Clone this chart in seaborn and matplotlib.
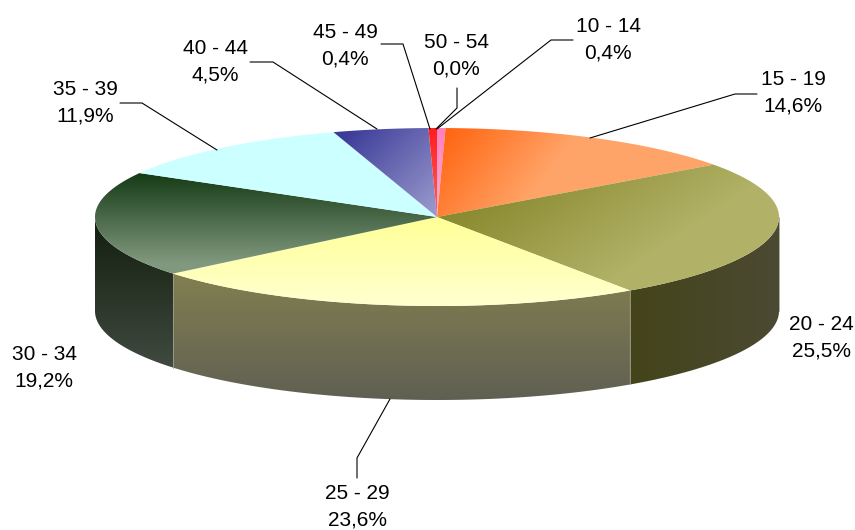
import numpy as np
import matplotlib
matplotlib.use('Agg')
import matplotlib.pyplot as plt
from matplotlib.path import Path
from matplotlib.patches import PathPatch
import seaborn as sns

categories = ['10 - 14', '15 - 19', '20 - 24', '25 - 29', '30 - 34', '35 - 39', '40 - 44', '45 - 49', '50 - 54']
values = [0.4, 14.6, 25.5, 23.6, 19.2, 11.9, 4.5, 0.4, 0.0]

# top face colours, start and end of the gradient
top_start = ['#ff80c0', '#ff6410', '#8a8a30', '#ffff99', '#143a14', '#ccffff', '#3a3a98', '#ff2020', '#ff0000']
top_end = ['#ffb0d8', '#ffa468', '#b2b268', '#ffffcc', '#80987e', '#ccffff', '#9898cc', '#ff6060', '#ff0000']
side_start = ['#804060', '#804020', '#44441a', '#827f50', '#121e0e', '#667f7f', '#1e1e50', '#801010', '#800000']
side_end = ['#804060', '#804020', '#4b4a33', '#606053', '#404a40', '#667f7f', '#1e1e50', '#801010', '#800000']

# gradient direction of the top face, in pixels
top_grad = {
    0: ((437, 130), (445, 215)),
    1: ((445, 128), (530, 195)),
    2: ((520, 170), (600, 290)),
    3: ((400, 220), (400, 300)),
    4: ((200, 172), (200, 262)),
    5: ((200, 130), (200, 210)),
    6: ((345, 130), (430, 215)),
    7: ((432, 130), (436, 215)),
    8: ((437, 130), (437, 215)),
}

label_pos = [(608, 40), (793, 93), (821, 338), (357, 507), (44, 368), (85, 103), (215, 62), (345, 46), (456, 56)]
leaders = [
    [(437, 129), (551, 40), (573, 40)],
    [(590, 138), (735, 94), (757, 94)],
    None,
    [(390, 399), (357, 458), (357, 478)],
    None,
    [(217, 150), (142, 103), (120, 103)],
    [(377, 129), (273, 62), (250, 62)],
    [(430, 129), (403, 44), (381, 44)],
    [(436, 129), (457, 108), (457, 88)],
]

cx, cy = 437, 217
rx, ry = 342, 89
depth = 94


def ellipse_pts(a0, a1, dy=0):
    # angles clockwise from the top, in degrees
    t = np.radians(np.linspace(a0, a1, max(int(abs(a1 - a0) * 2), 2)))
    return np.column_stack([cx + rx * np.sin(t), cy + dy - ry * np.cos(t)])


def fill_gradient(ax, pts, c0, c1, p0, p1):
    path = Path(np.vstack([pts, pts[0]]), closed=True)
    xmin, ymin = pts.min(axis=0) - 1
    xmax, ymax = pts.max(axis=0) + 1
    xx, yy = np.meshgrid(np.arange(xmin, xmax, 1.0), np.arange(ymin, ymax, 1.0))
    d = np.array(p1, dtype=float) - np.array(p0, dtype=float)
    g = ((xx - p0[0]) * d[0] + (yy - p0[1]) * d[1]) / (d @ d)
    cmap = sns.blend_palette([c0, c1], 64, as_cmap=True)
    im = ax.imshow(np.clip(g, 0, 1), cmap=cmap, vmin=0, vmax=1, aspect='auto', interpolation='bilinear',
                   extent=(xmin, xmax, ymax, ymin), zorder=2)
    patch = PathPatch(path, transform=ax.transData, fc='none', ec='none')
    ax.add_patch(patch)
    im.set_clip_path(patch)


sns.set_theme(style='white')
plt.rcParams['font.family'] = ['Liberation Sans', 'DejaVu Sans']

fig, ax = plt.subplots(figsize=(8.55, 5.3), dpi=100)
ax.set_position([0, 0, 1, 1])
ax.axis('off')

total = sum(values)
edges = np.concatenate([[0], np.cumsum(values)]) / total * 360

# outer wall first, only the front half can be seen
for i in range(len(values)):
    a0, a1 = max(edges[i], 90), min(edges[i + 1], 270)
    if a1 <= a0:
        continue
    upper = ellipse_pts(a0, a1)
    lower = ellipse_pts(a0, a1, depth)[::-1]
    pts = np.vstack([upper, lower])
    ytop, ybot = upper[:, 1].min(), lower[:, 1].max()
    if i == 2:
        fill_gradient(ax, pts, side_start[i], side_end[i], (630, 300), (780, 300))
    else:
        fill_gradient(ax, pts, side_start[i], side_end[i], (400, ytop), (400, ybot))
    ax.plot([upper[0, 0], lower[-1, 0]], [upper[0, 1], lower[-1, 1]], color='#a0a090', lw=0.6, zorder=3)

# top face
for i in range(len(values)):
    if values[i] == 0:
        continue
    pts = np.vstack([[cx, cy], ellipse_pts(edges[i], edges[i + 1])])
    fill_gradient(ax, pts, top_start[i], top_end[i], *top_grad[i])

for i, cat in enumerate(categories):
    x, y = label_pos[i]
    pct = f'{values[i]:.1f}%'.replace('.', ',')
    ax.text(x, y, f'{cat}\n{pct}', ha='center', va='center', fontsize=15, color='black', linespacing=1.5, zorder=5)
    if leaders[i] is not None:
        lx, ly = zip(*leaders[i])
        ax.plot(lx, ly, color='black', lw=0.8, zorder=4)

ax.set_xlim(0, 855)
ax.set_ylim(530, 0)
fig.savefig('out.png', dpi=100, facecolor='white')
